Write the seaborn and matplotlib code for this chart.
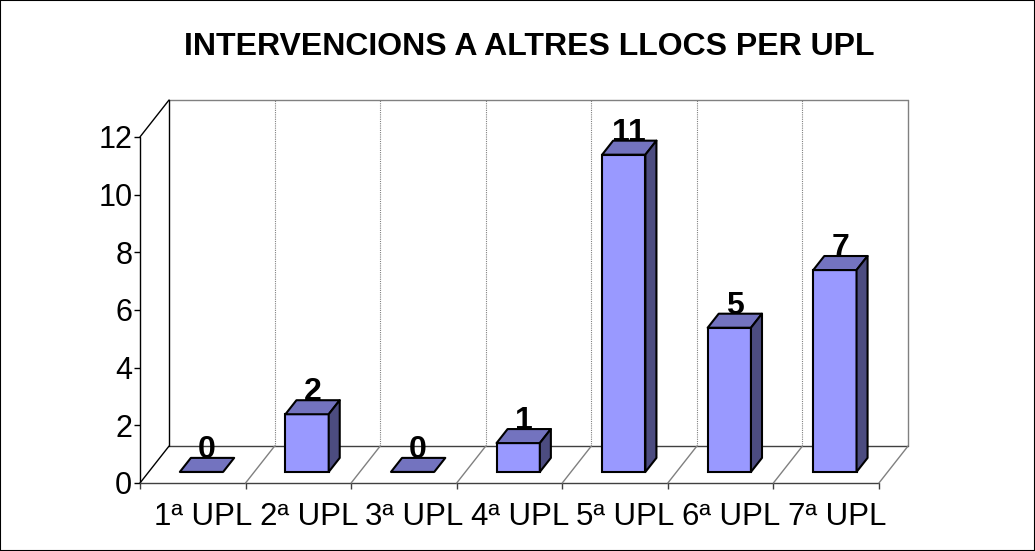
import numpy as np
import matplotlib
matplotlib.use("Agg")
import matplotlib.pyplot as plt
from matplotlib.patches import Polygon
import seaborn as sns

CATEGORIES = ["1ª UPL", "2ª UPL", "3ª UPL", "4ª UPL", "5ª UPL", "6ª UPL", "7ª UPL"]
VALUES = [0, 2, 0, 1, 11, 5, 7]
Y_TICKS = [0, 2, 4, 6, 8, 10, 12]
TITLE = "INTERVENCIONS A ALTRES LLOCS PER UPL"

FRONT = "#9999FF"
TOP = "#7373BF"
SIDE = "#4C4C80"
GRID = "#808080"

# depth of the 3d box, in data units (x in categories, y in values)
DX, DY = 0.275, 1.28
F0, F1 = 0.30, 0.68   # bar front / back as fraction of depth
BAR_W = 0.41
YMAX = 12


def main():
    sns.set_theme(style="white")
    plt.rcParams["font.family"] = ["Liberation Sans", "DejaVu Sans"]

    fig = plt.figure(figsize=(10.35, 5.51), dpi=100)
    ax = fig.add_axes([140 / 1035, 68 / 551, 768 / 1035, 383 / 551])
    n = len(CATEGORIES)
    x0, x1 = -0.5, n - 0.5
    ax.set_xlim(x0, x1 + DX)
    ax.set_ylim(0, YMAX + DY)
    for s in ax.spines.values():
        s.set_visible(False)

    # walls and floor
    kw = dict(clip_on=False, zorder=1)
    ax.plot([x0 + DX, x1 + DX], [YMAX + DY, YMAX + DY], color=GRID, lw=1, **kw)
    ax.plot([x1 + DX, x1 + DX], [DY, YMAX + DY], color=GRID, lw=1, **kw)
    ax.plot([x0 + DX, x1 + DX], [DY, DY], color="#404040", lw=1, **kw)
    ax.plot([x0 + DX, x0 + DX], [DY, YMAX + DY], color="black", lw=1, **kw)
    ax.plot([x0, x0 + DX], [YMAX, YMAX + DY], color="black", lw=1, **kw)
    ax.plot([x0, x0 + DX], [0, DY], color="black", lw=1, **kw)
    ax.plot([x0, x0], [0, YMAX], color="black", lw=1, **kw)
    ax.plot([x0, x1], [0, 0], color="#404040", lw=1, **kw)
    for k in range(1, n + 1):
        b = x0 + k
        if k < n:
            ax.plot([b + DX, b + DX], [DY, YMAX + DY], color=GRID, lw=0.8, ls=(0, (1, 1)), **kw)
        ax.plot([b, b + DX], [0, DY], color=GRID, lw=1, **kw)

    # front faces with seaborn, then shifted into depth
    sns.barplot(x=list(range(n)), y=VALUES, color=FRONT, saturation=1, width=BAR_W,
                edgecolor="black", linewidth=1.5, ax=ax, native_scale=True, zorder=3)
    for p in ax.patches:
        p.set_x(p.get_x() + F0 * DX)
        p.set_y(F0 * DY)

    for i, v in enumerate(VALUES):
        l = i - BAR_W / 2 + F0 * DX
        r = i + BAR_W / 2 + F0 * DX
        b = F0 * DY
        t = b + v
        ddx, ddy = (F1 - F0) * DX, (F1 - F0) * DY
        top = Polygon([(l, t), (r, t), (r + ddx, t + ddy), (l + ddx, t + ddy)],
                      closed=True, fc=TOP, ec="black", lw=1.5, zorder=4, joinstyle="round")
        ax.add_patch(top)
        if v > 0:
            side = Polygon([(r, b), (r, t), (r + ddx, t + ddy), (r + ddx, b + ddy)],
                           closed=True, fc=SIDE, ec="black", lw=1.5, zorder=4, joinstyle="round")
            ax.add_patch(side)
        ax.annotate(str(v), (i + (F0 + F1) / 2 * DX, t + ddy), xytext=(0, 0),
                    textcoords="offset points", ha="center", va="baseline",
                    fontsize=23, fontweight="bold", color="black", zorder=6)

    # ticks
    ax.set_yticks(Y_TICKS)
    ax.set_yticklabels([str(t) for t in Y_TICKS])
    ax.tick_params(axis="y", which="major", left=True, length=4, width=1, color="black",
                   pad=1.5, labelsize=22, labelcolor="black")
    ax.set_xticks([x0 + k for k in range(n + 1)])
    ax.set_xticklabels([""] * (n + 1))
    ax.set_xticks([i + 0.1 for i in range(n)], minor=True)
    ax.set_xticklabels(CATEGORIES, minor=True)
    ax.tick_params(axis="x", which="major", bottom=True, length=4, width=1, color="#404040")
    ax.tick_params(axis="x", which="minor", bottom=True, length=0, pad=14, labelsize=22.5,
                   labelcolor="black")
    ax.set_xlabel("")
    ax.set_ylabel("")
    ax.grid(False)

    fig.text(529.5 / 1035, 1 - 55 / 551, TITLE, ha="center", va="baseline", fontsize=23,
             fontweight="bold", color="black")
    fig.patches.append(plt.Rectangle((0, 0), 1, 1, transform=fig.transFigure, fill=False,
                                     ec="black", lw=1.5))
    fig.savefig("out.png", dpi=100, facecolor="white")


if __name__ == "__main__":
    main()
